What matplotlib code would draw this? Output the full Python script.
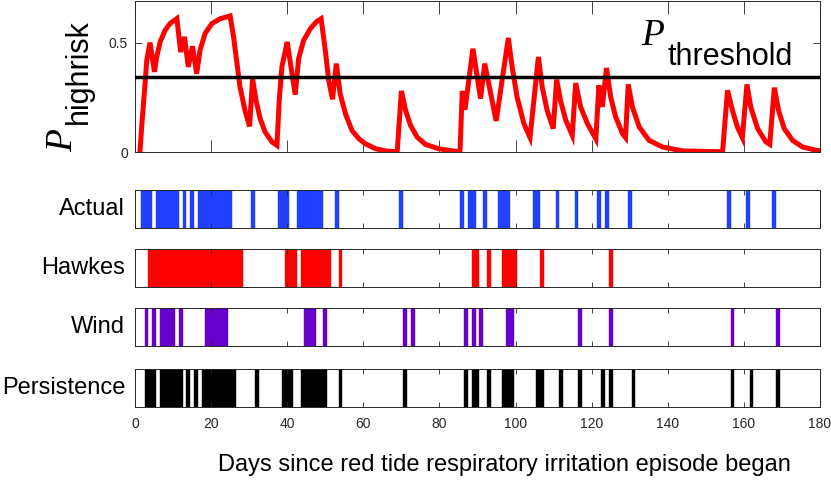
import numpy as np
import matplotlib
matplotlib.use("Agg")
import matplotlib.pyplot as plt

# ---------------- data ----------------
curve_days = [1.3, 1.75, 2.5, 3.1, 3.95, 5.1, 5.7, 6.6, 7.9, 9.2, 11.0, 12.0, 13.0, 14.0, 15.1, 16.2,
              17.1, 18.4, 20.2, 22.4, 25.0, 25.9, 26.8, 27.6, 28.9, 30.1, 30.9, 31.8, 32.9, 34.2, 36.0,
              37.3, 37.9, 38.6, 40.0, 42.1, 43.0, 44.3, 46.1, 47.8, 48.9, 50.0, 50.9, 51.9, 52.9, 53.9,
              55.3, 57.0, 58.8, 60.5, 63.2, 65.8, 68.9, 70.0, 71.1, 72.4, 74.1, 76.3, 79.8, 84.2, 85.4,
              86.0, 86.7, 88.8, 90.8, 91.9, 94.9, 98.1, 99.1, 100.4, 102.2, 103.8, 106.0, 107.0, 108.3,
              109.9, 110.8, 111.8, 113.2, 114.9, 115.8, 117.1, 118.9, 121.1, 121.9, 122.8, 123.9, 125.0,
              126.3, 128.1, 128.9, 129.6, 130.7, 132.5, 135.1, 138.6, 143.9, 154.4, 155.7, 157.0, 158.3,
              159.6, 160.8, 161.8, 163.6, 165.8, 166.8, 168.0, 169.1, 170.6, 172.8, 175.4, 178.9, 180.0]
curve_p = [0.0, 0.114, 0.28, 0.42, 0.50, 0.366, 0.434, 0.503, 0.556, 0.587, 0.61, 0.457, 0.526, 0.389,
           0.483, 0.358, 0.465, 0.541, 0.587, 0.609, 0.622, 0.526, 0.404, 0.297, 0.19, 0.117, 0.335,
           0.236, 0.152, 0.091, 0.046, 0.030, 0.236, 0.389, 0.503, 0.262, 0.427, 0.51, 0.564, 0.597,
           0.609, 0.465, 0.328, 0.241, 0.404, 0.267, 0.175, 0.099, 0.061, 0.038, 0.015, 0.005, 0.001,
           0.279, 0.19, 0.122, 0.069, 0.035, 0.015, 0.003, 0.002, 0.279, 0.193, 0.472, 0.244, 0.404,
           0.142, 0.521, 0.389, 0.251, 0.129, 0.066, 0.434, 0.297, 0.19, 0.107, 0.331, 0.236, 0.145,
           0.076, 0.315, 0.206, 0.129, 0.060, 0.305, 0.206, 0.384, 0.251, 0.16, 0.084, 0.066, 0.309,
           0.206, 0.114, 0.053, 0.023, 0.005, 0.001, 0.282, 0.19, 0.114, 0.066, 0.309, 0.206, 0.107,
           0.046, 0.035, 0.294, 0.19, 0.107, 0.053, 0.023, 0.008, 0.006]
p_threshold = 0.345

actual_days = [2, 3, 4, 6, 7, 8, 9, 10, 11, 13, 15, 17, 18, 19, 20, 21, 22, 23, 24, 25, 31, 38, 39, 40,
               43, 44, 45, 46, 47, 48, 49, 53, 70, 86, 88, 89, 92, 96, 97, 98, 105, 106, 111, 116, 122,
               124, 130, 156, 161, 168]
hawkes_days = [4, 5, 6, 7, 8, 9, 10, 11, 12, 13, 14, 15, 16, 17, 18, 19, 20, 21, 22, 23, 24, 25, 26, 27,
               28, 40, 41, 42, 44, 45, 46, 47, 48, 49, 50, 51, 54, 89, 90, 93, 97, 98, 99, 100, 107, 125]
wind_days = [3, 5, 7, 8, 9, 10, 12, 19, 20, 21, 22, 23, 24, 45, 46, 47, 50, 71, 73, 87, 89, 91, 98, 99,
             117, 125, 157, 169]
persistence_days = [3, 4, 5, 7, 8, 9, 10, 11, 12, 14, 16, 18, 19, 20, 21, 22, 23, 24, 25, 26, 32, 39, 40,
                    41, 44, 45, 46, 47, 48, 49, 50, 54, 71, 87, 89, 90, 93, 97, 98, 99, 106, 107, 112,
                    117, 123, 125, 131, 157, 162, 169]

strip_names = ["Actual", "Hawkes", "Wind", "Persistence"]
strip_colors = ["#2040FF", "#FF0000", "#6600CC", "#000000"]
x_ticks = [0, 20, 40, 60, 80, 100, 120, 140, 160, 180]
x_label = "Days since red tide respiratory irritation episode began"

# ---------------- layout ----------------
W, H = 831, 480
plt.rcParams['font.family'] = ['Liberation Sans', 'DejaVu Sans']
fig = plt.figure(figsize=(W / 100, H / 100), dpi=100)

def ax_rect(left, top, right, bottom):
    return [left / W, 1 - bottom / H, (right - left) / W, (bottom - top) / H]

axis_col = '#262626'

def style(ax):
    for s in ax.spines.values():
        s.set_color(axis_col)
        s.set_linewidth(0.7)

# top panel
ax0 = fig.add_axes(ax_rect(135, 1, 820, 152))
ax0.plot(curve_days, curve_p, color='#FF0000', lw=3.6, solid_joinstyle='miter', zorder=3)
ax0.axhline(p_threshold, color='black', lw=2.5, zorder=4)
ax0.set_xlim(0, 180)
ax0.set_ylim(0, 0.69)
ax0.set_xticks(x_ticks)
ax0.set_xticklabels([])
ax0.set_yticks([0, 0.5])
ax0.set_yticklabels(['0', '0.5'])
ax0.tick_params(axis='x', direction='in', top=True, bottom=True, length=9, width=0.6, color=axis_col)
ax0.tick_params(axis='y', direction='in', left=True, right=True, length=5, width=0.6, color=axis_col,
                labelsize=10, labelcolor=axis_col, pad=5)
style(ax0)

# strips
strip_tops = [190, 249, 308, 369]
strip_data = [actual_days, hawkes_days, wind_days, persistence_days]
for i, (name, col, days, top) in enumerate(zip(strip_names, strip_colors, strip_data, strip_tops)):
    ax = fig.add_axes(ax_rect(135, top, 820, top + 38))
    ax.bar(days, [1] * len(days), width=1.0, color=col, edgecolor=col, linewidth=0.3)
    ax.set_xlim(0, 180)
    ax.set_ylim(0, 1)
    ax.set_yticks([])
    ax.set_xticks(x_ticks)
    ax.tick_params(axis='x', direction='in', top=True, bottom=True, length=3.5, width=0.6,
                   color=axis_col, labelsize=10, labelcolor=axis_col, pad=7)
    if i < 3:
        ax.set_xticklabels([])
    style(ax)
    ax.text(-10 / 685 * 1.0, 0.5, name, transform=ax.transAxes, ha='right', va='center',
            fontsize=17, color='black')

def fx(px):
    return px / W

def fy(py):
    return 1 - py / H

# x label
fig.text(fx(504), fy(465), x_label, ha='center', va='center', fontsize=17)

# y label: P_highrisk
fig.text(fx(72), fy(152), 'P', rotation=90, rotation_mode='anchor', ha='left', va='baseline',
         fontsize=27, family='Liberation Serif', style='italic')
fig.text(fx(79), fy(71.5), 'highrisk', rotation=90, ha='center', va='center', fontsize=22)

# P_threshold annotation
fig.text(fx(641), fy(45), 'P', ha='left', va='baseline', fontsize=27,
         family='Liberation Serif', style='italic')
fig.text(fx(668), fy(65), 'threshold', ha='left', va='baseline', fontsize=22)

fig.savefig('out.png', dpi=100)
